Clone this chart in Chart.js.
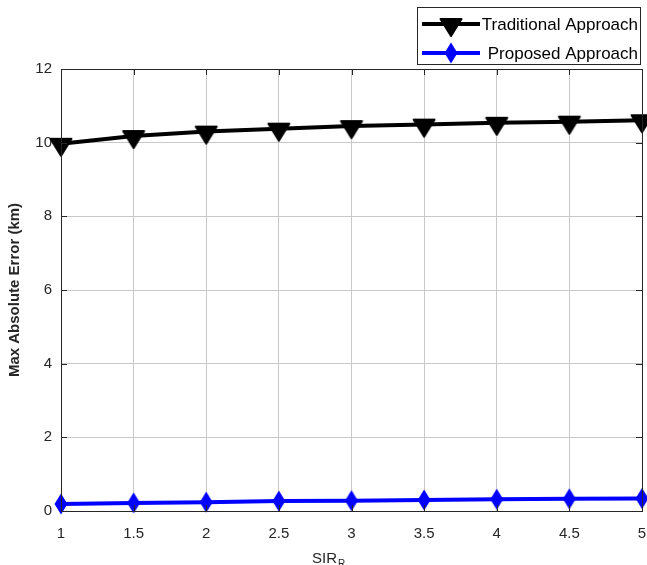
<!DOCTYPE html>
<html>
<head>
<meta charset="utf-8">
<script src="https://cdn.jsdelivr.net/npm/chart.js@4"></script>
<style>
  html, body { margin: 0; padding: 0; background: #fff; overflow: hidden; }
  #wrap { width: 660px; height: 565px; }
</style>
</head>
<body>
<div id="wrap"><canvas id="errChart" width="660" height="565"></canvas></div>
<script>
// datos
const sirValues = [1, 1.5, 2, 2.5, 3, 3.5, 4, 4.5, 5];
const traditionalErr = [9.97, 10.18, 10.3, 10.38, 10.45, 10.49, 10.54, 10.57, 10.61];
const proposedErr = [0.19, 0.22, 0.24, 0.27, 0.28, 0.30, 0.32, 0.33, 0.34];
const seriesNames = ['Traditional Approach', 'Proposed Approach'];
const yTicks = [0, 2, 4, 6, 8, 10, 12];

const FONT = "'Liberation Sans', Arial, sans-serif";
const AXIS_COLOR = '#262626';

// marcador triangulo hacia abajo
function makeTriangle() {
  const c = document.createElement('canvas');
  c.width = 26; c.height = 34;
  const g = c.getContext('2d');
  g.fillStyle = '#000';
  g.strokeStyle = '#000';
  g.lineWidth = 2;
  g.lineJoin = 'round';
  g.beginPath();
  g.moveTo(2.5, 12);
  g.lineTo(23.5, 12);
  g.lineTo(13, 29);
  g.closePath();
  g.fill();
  g.stroke();
  return c;
}

// marcador diamante alargado
function makeDiamond() {
  const c = document.createElement('canvas');
  c.width = 16; c.height = 24;
  const g = c.getContext('2d');
  g.fillStyle = '#0000ff';
  g.beginPath();
  g.moveTo(8, 1.5);
  g.lineTo(14.5, 12);
  g.lineTo(8, 22.5);
  g.lineTo(1.5, 12);
  g.closePath();
  g.fill();
  return c;
}

const triMarker = makeTriangle();
const diaMarker = makeDiamond();

// caja, ticks interiores, leyenda y titulo del eje x
const extras = {
  id: 'extras',
  afterDraw(chart) {
    const ctx = chart.ctx;
    const a = chart.chartArea;
    const xs = chart.scales.x;
    const ys = chart.scales.y;
    ctx.save();
    ctx.strokeStyle = AXIS_COLOR;
    ctx.lineWidth = 1;
    ctx.strokeRect(Math.round(a.left) + 0.5, Math.round(a.top) + 0.5,
      Math.round(a.right - a.left), Math.round(a.bottom - a.top));
    ctx.beginPath();
    yTicks.forEach(v => {
      const y = Math.round(ys.getPixelForValue(v)) + 0.5;
      ctx.moveTo(a.left, y); ctx.lineTo(a.left + 6, y);
      ctx.moveTo(a.right, y); ctx.lineTo(a.right - 6, y);
    });
    sirValues.forEach(v => {
      const x = Math.round(xs.getPixelForValue(v)) + 0.5;
      ctx.moveTo(x, a.bottom); ctx.lineTo(x, a.bottom - 6);
      ctx.moveTo(x, a.top); ctx.lineTo(x, a.top + 6);
    });
    ctx.stroke();

    // leyenda
    ctx.fillStyle = '#fff';
    ctx.fillRect(417, 7, 223, 57);
    ctx.strokeStyle = AXIS_COLOR;
    ctx.strokeRect(417.5, 7.5, 223, 57);
    const rows = [
      { y: 24, color: '#000', img: triMarker, text: seriesNames[0] },
      { y: 53, color: '#0000ff', img: diaMarker, text: seriesNames[1] }
    ];
    ctx.font = '17px ' + FONT;
    ctx.textBaseline = 'middle';
    ctx.textAlign = 'right';
    rows.forEach(r => {
      ctx.strokeStyle = r.color;
      ctx.lineWidth = 4;
      ctx.beginPath();
      ctx.moveTo(422, r.y); ctx.lineTo(480, r.y);
      ctx.stroke();
      ctx.drawImage(r.img, 451 - r.img.width / 2, r.y - r.img.height / 2);
      ctx.fillStyle = '#000';
      ctx.fillText(r.text, 638, r.y + 1);
    });

    // titulo eje x con subindice
    ctx.fillStyle = AXIS_COLOR;
    ctx.textAlign = 'left';
    ctx.textBaseline = 'alphabetic';
    ctx.font = '15px ' + FONT;
    ctx.fillText('SIR', 312, 563);
    const w = ctx.measureText('SIR').width;
    ctx.font = '10px ' + FONT;
    ctx.fillText('R', 312 + w + 1, 567);

    // titulo eje y
    ctx.font = 'bold 15px ' + FONT;
    ctx.textAlign = 'center';
    ctx.translate(19, (a.top + a.bottom) / 2);
    ctx.rotate(-Math.PI / 2);
    ctx.fillText('Max Absolute Error (km)', 0, 0);
    ctx.restore();
  }
};

const ctx = document.getElementById('errChart').getContext('2d');
const chart = new Chart(ctx, {
  type: 'line',
  data: {
    datasets: [{
      label: seriesNames[0],
      data: sirValues.map((x, i) => ({ x: x, y: traditionalErr[i] })),
      borderColor: '#000',
      backgroundColor: '#000',
      borderWidth: 4,
      pointStyle: triMarker,
      pointRadius: 10,
      clip: false,
      fill: false
    }, {
      label: seriesNames[1],
      data: sirValues.map((x, i) => ({ x: x, y: proposedErr[i] })),
      borderColor: '#0000ff',
      backgroundColor: '#0000ff',
      borderWidth: 4,
      pointStyle: diaMarker,
      pointRadius: 10,
      clip: false,
      fill: false
    }]
  },
  options: {
    responsive: false,
    animation: false,
    layout: { padding: { top: 69, right: 18, bottom: 0, left: 0 } },
    plugins: {
      legend: { display: false },
      title: { display: false },
      tooltip: { enabled: false }
    },
    scales: {
      x: {
        type: 'linear',
        min: 1,
        max: 5,
        afterFit: (s) => { s.height = 54; s.paddingLeft = 0; s.paddingRight = 0; },
        grid: { color: '#c8c8c8', drawTicks: false },
        border: { color: AXIS_COLOR },
        ticks: {
          stepSize: 0.5,
          padding: 14,
          color: AXIS_COLOR,
          font: { family: FONT, size: 15 },
          maxRotation: 0,
          callback: (v) => String(v)
        }
      },
      y: {
        min: 0,
        max: 12,
        afterFit: (s) => { s.width = 61; s.paddingTop = 0; s.paddingBottom = 0; },
        grid: { color: '#c8c8c8', drawTicks: false },
        border: { color: AXIS_COLOR },
        ticks: {
          stepSize: 2,
          padding: 9,
          color: AXIS_COLOR,
          font: { family: FONT, size: 15 }
        }
      }
    }
  },
  plugins: [extras]
});
</script>
</body>
</html>
